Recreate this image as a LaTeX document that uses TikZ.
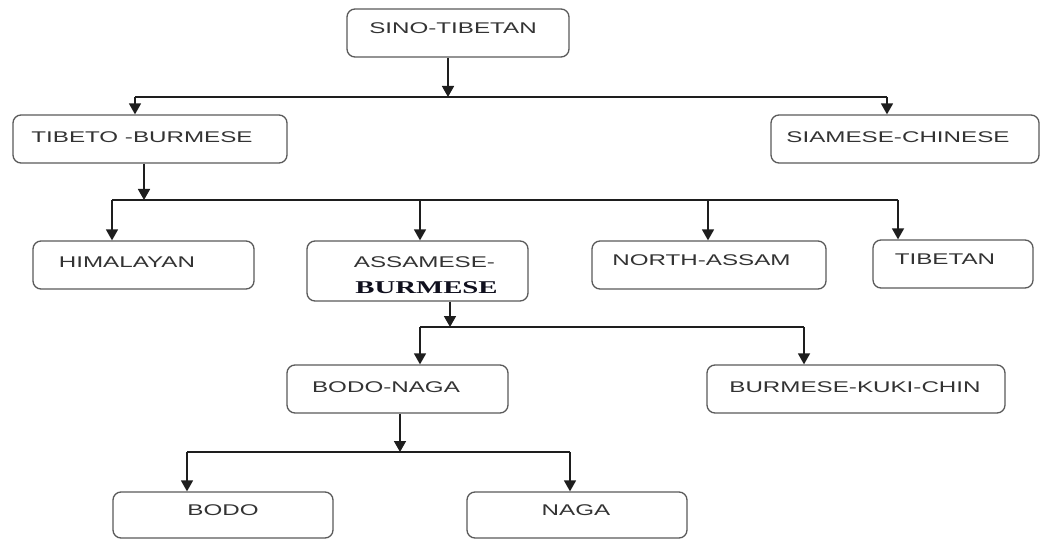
\documentclass[tikz,border=0pt]{standalone}
\usepackage{fontspec}
\setmainfont{Liberation Sans}
\newfontfamily\bserif{Liberation Serif}
\usetikzlibrary{arrows.meta}
\definecolor{boxgray}{HTML}{5A5A5A}
\definecolor{txtgray}{HTML}{333333}
\definecolor{linegray}{HTML}{1E1E1E}
\definecolor{navyblack}{HTML}{10101E}
\newcommand{\wideT}[1]{\scalebox{1.56}[1]{#1}}
\begin{document}
\begin{tikzpicture}[x=1pt,y=-1pt,
  box/.style={draw=boxgray, line width=1.3pt, rounded corners=8pt, inner sep=0pt},
  lbl/.style={inner sep=0pt, text=txtgray, font=\fontsize{15.5}{15.5}\selectfont},
  ln/.style={line width=1.6pt, draw=linegray},
  arr/.style={ln, -{Triangle[length=11pt,width=12pt]}}]
\fill[white] (0,0) rectangle (1041,540);
\useasboundingbox (0,0) rectangle (1041,540);

% boxes
\node[box, minimum width=222pt, minimum height=48pt] (st)   at (458,33)    {};
\node[box, minimum width=274pt, minimum height=48pt] (tb)   at (150,139)   {};
\node[box, minimum width=268pt, minimum height=48pt] (sc)   at (905,139)   {};
\node[box, minimum width=221pt, minimum height=48pt] (him)  at (143.5,265) {};
\node[box, minimum width=221pt, minimum height=60pt] (ab)   at (417.5,271) {};
\node[box, minimum width=234pt, minimum height=48pt] (na)   at (709,265)   {};
\node[box, minimum width=160pt, minimum height=48pt] (tib)  at (953,264)   {};
\node[box, minimum width=221pt, minimum height=48pt] (bn)   at (397.5,389) {};
\node[box, minimum width=298pt, minimum height=48pt] (bkc)  at (856,389)   {};
\node[box, minimum width=220pt, minimum height=46pt] (bodo) at (223,515)   {};
\node[box, minimum width=220pt, minimum height=46pt] (naga) at (577,515)   {};

% labels
\node[lbl] (st-t)   at (453,28)    {\wideT{SINO-TIBETAN}};
\node[lbl] (tb-t)   at (142,137)   {\wideT{TIBETO -BURMESE}};
\node[lbl] (sc-t)   at (898,137)   {\wideT{SIAMESE-CHINESE}};
\node[lbl] (him-t)  at (127,262)   {\wideT{HIMALAYAN}};
\node[lbl] (ab-t1)  at (424.5,262) {\wideT{ASSAMESE-}};
\node[inner sep=0pt, text=navyblack, font=\bserif\bfseries\fontsize{18}{18}\selectfont] (ab-t2) at (426.5,288) {\scalebox{1.6}[1]{BURMESE}};
\node[lbl] (na-t)   at (701.5,260) {\wideT{NORTH-ASSAM}};
\node[lbl] (tib-t)  at (945,259)   {\wideT{TIBETAN}};
\node[lbl] (bn-t)   at (386,387)   {\wideT{BODO-NAGA}};
\node[lbl] (bkc-t)  at (855,387)   {\wideT{BURMESE-KUKI-CHIN}};
\node[lbl] (bodo-t) at (223,510)   {\wideT{BODO}};
\node[lbl] (naga-t) at (576,510)   {\wideT{NAGA}};

% junction coordinates
\coordinate (j1) at (448,97);
\coordinate (j1l) at (135,97);
\coordinate (j1r) at (887,97);
\coordinate (j2) at (144,200);
\coordinate (j2a) at (112,200);
\coordinate (j2b) at (420,200);
\coordinate (j2c) at (708,200);
\coordinate (j2d) at (898,200);
\coordinate (j3) at (450,327);
\coordinate (j3l) at (420,327);
\coordinate (j3r) at (804,327);
\coordinate (j4) at (400,452);
\coordinate (j4l) at (187,452);
\coordinate (j4r) at (570,452);

% level 1
\draw[ln] (j1l) -- (j1r);
\draw[arr] (st.south -| j1) -- (j1);
\draw[arr] (j1l) -- (j1l |- tb.north);
\draw[arr] (j1r) -- (j1r |- sc.north);

% level 2
\draw[ln] (j2a) -- (j2d);
\draw[arr] (tb.south -| j2) -- (j2);
\draw[arr] (j2a) -- (j2a |- him.north);
\draw[arr] (j2b) -- (j2b |- ab.north);
\draw[arr] (j2c) -- (j2c |- na.north);
\draw[arr] (j2d) -- (j2d |- tib.north);

% level 3
\draw[ln] (j3l) -- (j3r);
\draw[arr] (ab.south -| j3) -- (j3);
\draw[arr] (j3l) -- (j3l |- bn.north);
\draw[arr] (j3r) -- (j3r |- bkc.north);

% level 4
\draw[ln] (j4l) -- (j4r);
\draw[arr] (bn.south -| j4) -- (j4);
\draw[arr] (j4l) -- (j4l |- bodo.north);
\draw[arr] (j4r) -- (j4r |- naga.north);
\end{tikzpicture}
\end{document}
